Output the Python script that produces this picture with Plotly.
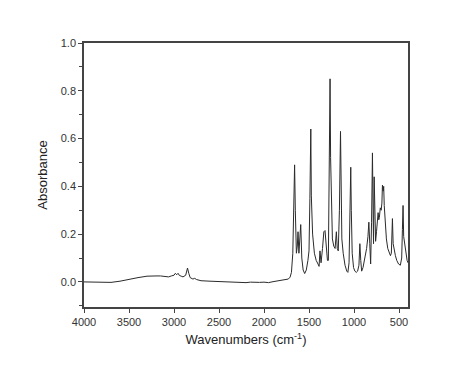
import plotly.graph_objects as go

wavenumbers = [
    4000, 3900, 3800, 3700, 3600, 3500, 3400, 3300, 3250, 3200, 3150, 3100, 3060, 3030,
    3000, 2985, 2970, 2955, 2940, 2920, 2900, 2870, 2850, 2835, 2820, 2790, 2770, 2750,
    2700, 2600, 2500, 2400, 2300, 2200, 2150, 2100, 2050, 2000, 1950, 1900, 1850, 1800,
    1760, 1730, 1710, 1695, 1680, 1670, 1660, 1652, 1640, 1630, 1622, 1612, 1600, 1592,
    1580, 1565, 1548, 1530, 1512, 1500, 1490, 1480, 1474, 1468, 1460, 1440, 1420, 1400,
    1388, 1378, 1366, 1350, 1335, 1322, 1310, 1295, 1285, 1275, 1266, 1260, 1252, 1240,
    1225, 1210, 1196, 1186, 1175, 1162, 1150, 1144, 1135, 1120, 1100, 1080, 1068, 1055,
    1045, 1036, 1030, 1020, 1005, 990, 975, 960, 945, 935, 925, 915, 900, 880, 860, 845,
    835, 825, 815, 805, 795, 788, 783, 776, 768, 760, 750, 740, 732, 725, 718, 708, 698,
    690, 684, 676, 670, 664, 655, 640, 625, 610, 595, 585, 573, 565, 555, 540, 525, 505,
    485, 470, 462, 455, 448, 440, 430, 420, 410, 400,
]
absorbance = [
    0.0, -0.001, -0.003, -0.002, 0.003, 0.012, 0.018, 0.024, 0.026, 0.025, 0.025, 0.022, 0.021, 0.025,
    0.028, 0.036, 0.030, 0.036, 0.027, 0.024, 0.021, 0.028, 0.058, 0.035, 0.018, 0.012, 0.015, 0.010,
    0.005, 0.003, 0.001, -0.001, -0.002, -0.003, -0.001, -0.003, -0.002, -0.001, -0.003, 0.001, 0.004, 0.005,
    0.008, 0.012, 0.020, 0.040, 0.12, 0.30, 0.49, 0.30, 0.12, 0.15, 0.21, 0.12, 0.18, 0.24,
    0.10, 0.05, 0.035, 0.05, 0.09, 0.13, 0.35, 0.64, 0.36, 0.26, 0.20, 0.12, 0.09, 0.075,
    0.065, 0.13, 0.08, 0.14, 0.21, 0.215, 0.15, 0.09, 0.09, 0.45, 0.85, 0.52, 0.30, 0.18,
    0.15, 0.14, 0.21, 0.14, 0.13, 0.30, 0.63, 0.40, 0.18, 0.12, 0.07, 0.045, 0.04, 0.08,
    0.25, 0.48, 0.30, 0.12, 0.06, 0.045, 0.04, 0.045, 0.07, 0.16, 0.09, 0.045, 0.06, 0.10, 0.14, 0.19,
    0.25, 0.16, 0.075, 0.25, 0.54, 0.30, 0.16, 0.44, 0.30, 0.17, 0.21, 0.26, 0.29, 0.26, 0.27, 0.31, 0.30,
    0.33, 0.405, 0.38, 0.40, 0.32, 0.24, 0.18, 0.14, 0.12, 0.11, 0.12, 0.265, 0.16, 0.13, 0.11, 0.09, 0.075,
    0.07, 0.10, 0.22, 0.32, 0.19, 0.17, 0.14, 0.10, 0.09, 0.08,
]

x_ticks = [4000, 3500, 3000, 2500, 2000, 1500, 1000, 500]
y_ticks = [0.0, 0.2, 0.4, 0.6, 0.8, 1.0]
y_tick_labels = ["0.0", "0.2", "0.4", "0.6", "0.8", "1.0"]

fig = go.Figure()
fig.add_trace(go.Scatter(
    x=wavenumbers, y=absorbance, mode="lines",
    line=dict(color="#2b2b2b", width=1),
    showlegend=False, hoverinfo="skip",
))

axis_common = dict(
    showgrid=False, zeroline=False, showline=True, linecolor="#444444", linewidth=1.5,
    mirror=True, ticks="outside", ticklen=4, tickwidth=1, tickcolor="#444444",
    automargin=False,
    tickfont=dict(family="Liberation Sans, Arial, sans-serif", size=11, color="#333333"),
)

# The page body adds an 8px offset, so the figure is sized to the remaining window.
fig.update_layout(
    width=466, height=359,
    margin=dict(l=76, r=66, t=35, b=60, autoexpand=False),
    paper_bgcolor="white", plot_bgcolor="white",
    font=dict(family="Liberation Sans, Arial, sans-serif", color="#222222"),
    xaxis=dict(
        range=[4000, 400], tickvals=x_ticks,
        title=dict(text="Wavenumbers (cm<sup>-1</sup>)", font=dict(size=13, color="#222222"), standoff=8),
        **axis_common,
    ),
    yaxis=dict(
        range=[-0.105, 1.0], tickvals=y_ticks, ticktext=y_tick_labels,
        minor=dict(dtick=0.1, tick0=0, ticks="outside", ticklen=3, tickcolor="#444444"),
        title=dict(text="Absorbance", font=dict(size=13, color="#222222"), standoff=10),
        **axis_common,
    ),
)

fig.write_html("out.html")
